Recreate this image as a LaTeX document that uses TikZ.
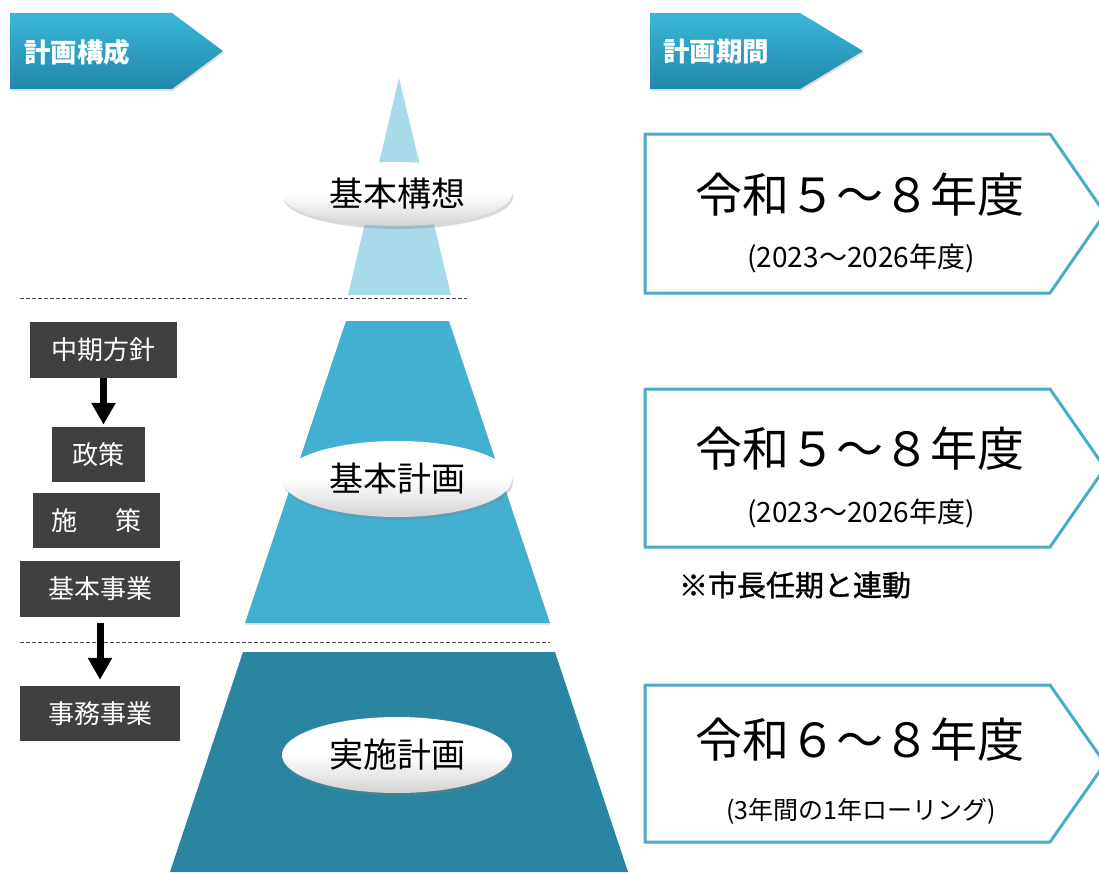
\documentclass[tikz,border=0pt]{standalone}
\usepackage{fontspec}
\setmainfont{Noto Sans CJK JP}
\usetikzlibrary{arrows.meta,shadows,shapes.geometric}
\definecolor{headtop}{RGB}{58,182,217}
\definecolor{headbot}{RGB}{33,135,172}
\definecolor{tri}{RGB}{167,219,234}
\definecolor{midblue}{RGB}{67,176,210}
\definecolor{darkteal}{RGB}{41,133,160}
\definecolor{outl}{RGB}{75,172,198}
\definecolor{gbox}{RGB}{64,64,64}
\definecolor{dl}{RGB}{70,70,70}
\tikzset{
  header/.style={top color=headtop, bottom color=headbot, drop shadow={opacity=0.25, shadow xshift=1pt, shadow yshift=-2pt}},
  headtext/.style={text=white, font=\bfseries\fontsize{26.5}{29}\selectfont, anchor=west, inner sep=0pt},
  oval/.style={ellipse, minimum width=230pt, top color=white, bottom color=gray!35, middle color=white,
    drop shadow={opacity=0.3, shadow xshift=1pt, shadow yshift=-3pt}, font=\fontsize{34}{37}\selectfont, inner sep=0pt},
  darkbox/.style={fill=gbox, text=white, font=\fontsize{26}{28}\selectfont, inner sep=0pt},
  bigarrow/.style={line width=7pt, -{Triangle[width=23pt,length=22pt]}},
  dline/.style={draw=dl, line width=1pt, dash pattern=on 4pt off 2pt},
  obox/.style={draw=outl, line width=3pt, line join=miter},
  bigtxt/.style={font=\fontsize{47}{52}\selectfont, inner sep=0pt},
  subtxt/.style={font=\fontsize{28}{31}\selectfont, inner sep=0pt},
}
\begin{document}
\begin{tikzpicture}[x=1pt,y=-1pt]
\useasboundingbox (0,0) rectangle (1099,872);
\clip (0,0) rectangle (1099,872);

% headers
\path[header] (10,13) -- (172,13) -- (223,51) -- (172,89) -- (10,89) -- cycle;
\node[headtext] (h1) at (24,52) {計画構成};
\path[header] (650,13) -- (800,13) -- (863,51) -- (800,89) -- (650,89) -- cycle;
\node[headtext] (h2) at (663,52) {計画期間};

% pyramid
\fill[tri] (399,78) -- (451,295) -- (348,295) -- cycle;
\fill[midblue, drop shadow={opacity=0.2, shadow xshift=0pt, shadow yshift=-2pt}] (346,321) -- (449,321) -- (550,623) -- (245,623) -- cycle;
\fill[darkteal] (243,652) -- (555,652) -- (628,872) -- (170,872) -- cycle;

% dashed lines
\draw[dline] (20,298) -- (467,298);
\draw[dline] (20,642) -- (550,642);

% ovals
\node[oval, minimum height=64pt] (e1) at (397,194) {基本構想};
\node[oval, minimum height=76pt] (e2) at (397,479) {基本計画};
\node[oval, minimum height=76pt] (e3) at (397,755) {実施計画};

% left boxes
\node[darkbox, minimum width=147pt, minimum height=56pt] (b1) at (103.5,350) {中期方針};
\node[darkbox, minimum width=93pt, minimum height=55pt] (b2) at (98.5,454.5) {政策};
\node[darkbox, minimum width=127pt, minimum height=55pt] (b3) at (96.5,520.5) {施\hspace{38pt}策};
\node[darkbox, minimum width=160pt, minimum height=56pt] (b4) at (100,589) {基本事業};
\node[darkbox, minimum width=160pt, minimum height=55pt] (b5) at (100,713.5) {事務事業};

\draw[bigarrow, shorten >=2pt] (b1.south) -- (b1.south |- b2.north);
\draw[bigarrow, shorten <=6pt, shorten >=6pt] (b4.south) -- (b5.north);

% right period boxes
\draw[obox] (645,134) -- (1050,134) -- (1105,213.5) -- (1050,293) -- (645,293) -- cycle;
\draw[obox] (645,389) -- (1050,389) -- (1105,468) -- (1050,547) -- (645,547) -- cycle;
\draw[obox] (645,685) -- (1050,685) -- (1105,763.5) -- (1050,842) -- (645,842) -- cycle;

\node[bigtxt] (p1) at (860,195) {令和５～８年度};
\node[subtxt] (s1) at (861,258) {(2023～2026年度)};
\node[bigtxt] (p2) at (860,449) {令和５～８年度};
\node[subtxt] (s2) at (861,513) {(2023～2026年度)};
\node[font=\fontsize{29}{31}\selectfont\addfontfeature{FakeBold=1.2}, inner sep=0pt] (note) at (795,585) {※市長任期と連動};
\node[bigtxt] (p3) at (860,740) {令和６～８年度};
\node[font=\fontsize{25}{28}\selectfont, inner sep=0pt] (s3) at (861,811) {(3年間の1年ローリング)};
\end{tikzpicture}
\end{document}
